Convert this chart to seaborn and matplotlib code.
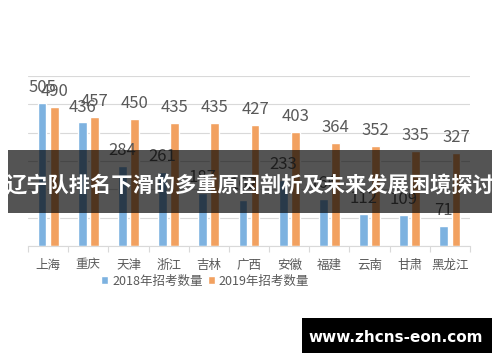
import matplotlib
matplotlib.use("Agg")
import matplotlib.pyplot as plt
from matplotlib.patches import Rectangle
import seaborn as sns
import pandas as pd
import numpy as np

categories = ["上海", "重庆", "天津", "浙江", "吉林", "广西", "安徽", "福建", "云南", "甘肃", "黑龙江"]
values_2018 = [505, 436, 284, 261, 187, 162, 233, 166, 112, 109, 71]
values_2019 = [490, 457, 450, 435, 435, 427, 403, 364, 352, 335, 327]
series_names = ["2018年招考数量", "2019年招考数量"]
banner_text = "辽宁队排名下滑的多重原因剖析及未来发展困境探讨"
site_text = "www.zhcns-eon.com"

sns.set_theme(style="white")
plt.rcParams["font.family"] = ["Noto Sans CJK SC", "DejaVu Sans"]

df = pd.DataFrame({
    "省份": categories * 2,
    "数量": values_2018 + values_2019,
    "系列": [series_names[0]] * len(categories) + [series_names[1]] * len(categories),
})

fig = plt.figure(figsize=(5.0, 3.62), dpi=100)
ax = fig.add_axes([0.056, 0.3204, 0.884, 0.4696])

palette = {series_names[0]: "#7DB2E0", series_names[1]: "#F2A160"}
sns.barplot(data=df, x="省份", y="数量", hue="系列", palette=palette,
            width=0.6, gap=0.27, ax=ax, saturation=1, legend=True)

ax.set_ylim(0, 600)
ax.set_xlim(-0.5, len(categories) - 0.5)
ax.set_yticks(np.arange(0, 601, 100))
ax.yaxis.grid(True, color="#D9D9D9", linewidth=0.8)
ax.set_axisbelow(True)
ax.tick_params(axis="y", left=False, labelleft=False)
ax.set_xlabel("")
ax.set_ylabel("")
for s in ["left", "right", "top"]:
    ax.spines[s].set_visible(False)
ax.spines["bottom"].set_color("#D9D9D9")
ax.spines["bottom"].set_linewidth(0.8)
ax.tick_params(axis="x", bottom=False, labelsize=9, labelcolor="#595959", pad=3)
ax.set_xticks(np.arange(-0.5, len(categories), 1), minor=True)
ax.tick_params(axis="x", which="minor", bottom=True, length=4, color="#D9D9D9", width=0.8)

for cont in ax.containers:
    ax.bar_label(cont, fontsize=12, color="#595959", padding=5)

handles, labels = ax.get_legend_handles_labels()
ax.legend(handles, labels, loc="center", bbox_to_anchor=(0.41, 1 - 281 / 362),
          bbox_transform=fig.transFigure, ncol=2, frameon=False,
          fontsize=9, labelcolor="#595959", handlelength=0.6, handleheight=0.6,
          handletextpad=0.3, columnspacing=0.4)

# overlay banner
fig.add_artist(Rectangle((8 / 500, 1 - 213 / 362), 484 / 500, 63 / 362,
                         transform=fig.transFigure, facecolor="black", alpha=0.67,
                         edgecolor="none", zorder=5))
fig.text(0.5, 1 - 185 / 362, banner_text, color="white", fontsize=15.3,
         fontweight="bold", ha="center", va="center", zorder=6)

# site box
fig.add_artist(Rectangle((302 / 500, 1 - 353 / 362), 190 / 500, 35 / 362,
                         transform=fig.transFigure, facecolor="black",
                         edgecolor="none", zorder=5))
fig.text(396 / 500, 1 - 337 / 362, site_text, color="white", fontsize=11,
         fontweight="bold", ha="center", va="center", zorder=6,
         family=["DejaVu Sans"])

fig.savefig("out.png", dpi=100)
